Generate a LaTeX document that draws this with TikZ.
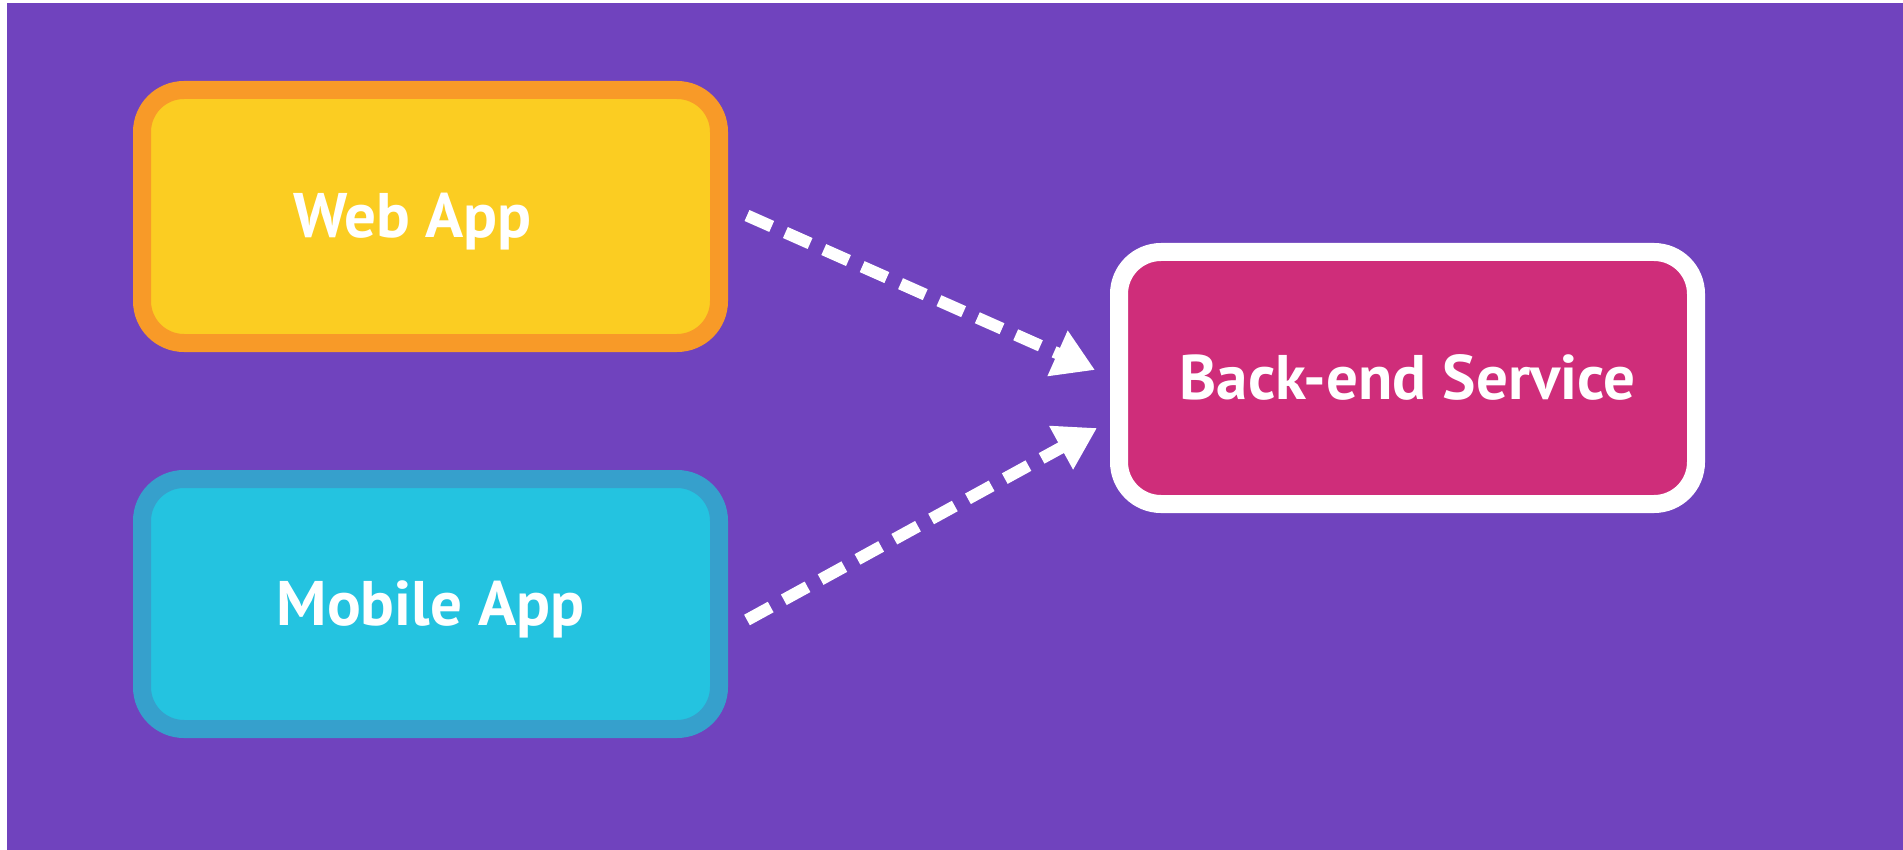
\documentclass[tikz,border=0pt]{standalone}
\usepackage{fontspec}
\setmainfont{PT Sans}
\usetikzlibrary{arrows.meta}
\definecolor{bgpurple}{RGB}{112,67,190}
\definecolor{webfill}{RGB}{251,205,34}
\definecolor{webline}{RGB}{248,154,40}
\definecolor{mobfill}{RGB}{36,195,224}
\definecolor{mobline}{RGB}{54,160,204}
\definecolor{backfill}{RGB}{207,45,122}
\tikzset{
  appbox/.style={rectangle, rounded corners=42pt, line width=18pt,
    minimum width=577pt, text=white,
    font=\bfseries\fontsize{63}{72}\selectfont},
  flow/.style={draw=white, line width=12pt, dash pattern=on 27pt off 15pt,
    -{Triangle[length=41pt,width=47pt]}}
}
\begin{document}
\begin{tikzpicture}[x=1pt,y=-1pt]
\useasboundingbox (0,0) rectangle (1903,850);
\fill[white] (0,0) rectangle (1903,850);
\fill[bgpurple] (7,3) rectangle (1903,850);
\node[appbox, draw=webline, fill=webfill, minimum height=253pt] (web) at (430.5,216.5) {};
\node[appbox, draw=mobline, fill=mobfill, minimum height=250pt] (mobile) at (430.5,604) {};
\node[appbox, draw=white, fill=backfill, minimum height=252pt] (backend) at (1407.5,378) {};
\node[appbox, draw=none, fill=none, minimum width=0pt, minimum height=0pt, anchor=base] (webtxt) at ([xshift=-18pt,yshift=-21pt]web.center) {Web App};
\node[appbox, draw=none, fill=none, minimum width=0pt, minimum height=0pt, anchor=base] (mobtxt) at ([yshift=-21pt]mobile.center) {Mobile App};
\node[appbox, draw=none, fill=none, minimum width=0pt, minimum height=0pt, anchor=base] (backtxt) at ([yshift=-21pt]backend.center) {Back-end Service};
\coordinate (ws) at ([xshift=19pt,yshift=1pt]web.east);
\coordinate (we) at ([xshift=-15pt,yshift=8pt]backend.west);
\coordinate (ms) at ([xshift=19pt,yshift=-16pt]mobile.east);
\coordinate (me) at ([xshift=-13pt,yshift=-50pt]backend.west);
\draw[flow] (ws) -- (we);
\draw[flow] (ms) -- (me);
\end{tikzpicture}
\end{document}
